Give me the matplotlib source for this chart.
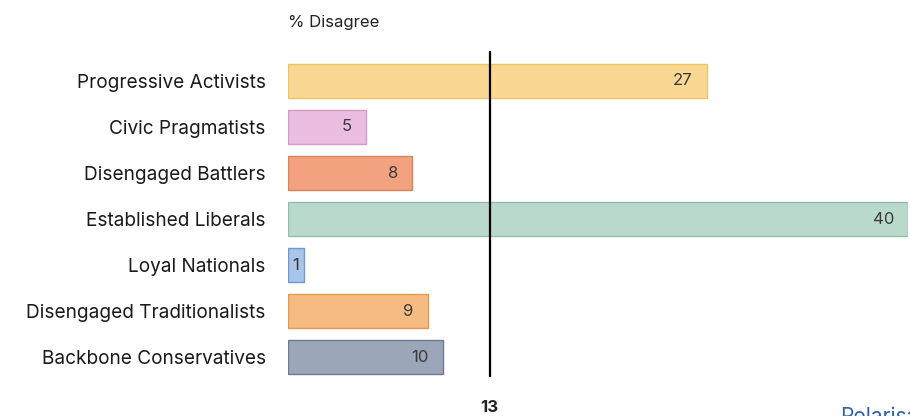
import matplotlib.pyplot as plt
from matplotlib.transforms import blended_transform_factory

plt.rcParams['font.family'] = ['Inter', 'DejaVu Sans']

# ==========================
# DATOS
# ==========================
categorias = [
    "Progressive Activists",
    "Civic Pragmatists",
    "Disengaged Battlers",
    "Established Liberals",
    "Loyal Nationals",
    "Disengaged Traditionalists",
    "Backbone Conservatives",
]
valores = [27, 5, 8, 40, 1, 9, 10]
promedio = 13

colores = ["#fad894", "#ebbde0", "#f2a27e", "#b9dacb", "#a9c5ea", "#f6bb80", "#9ca6b9"]
bordes = ["#e9c65e", "#d49ac6", "#d9835d", "#94bda9", "#6f98cc", "#e09a55", "#6f7a8f"]

# ==========================
# FIGURA
# ==========================
fig = plt.figure(figsize=(9.10, 4.16), dpi=100)
ax = fig.add_axes([288 / 910, 1 - 377 / 416, 620 / 910, 326 / 416])

y = range(len(categorias))
ax.barh(y, valores, height=0.74, color=colores, edgecolor=bordes, linewidth=1)

ax.set_xlim(0, 40)
ax.set_ylim(6.43, -0.65)

for i, v in enumerate(valores):
    if v < 3:
        ax.text(v / 2, i, str(v), ha="center", va="center", fontsize=12, color="#3a3a3a")
    else:
        ax.annotate(str(v), (v, i), xytext=(-10, 0), textcoords="offset points",
                    ha="right", va="center", fontsize=12, color="#3a3a3a")

ax.axvline(promedio, color="black", linewidth=1.6)

trans = blended_transform_factory(ax.transData, fig.transFigure)
ax.text(promedio, 1 - 407 / 416, str(promedio), transform=trans, ha="center",
        va="center", fontsize=12, fontweight="bold", color="#222222")

ax.set_yticks(list(y))
ax.set_yticklabels(categorias, fontsize=13.7, color="#1a1a1a")
ax.tick_params(axis="y", length=0, pad=16)
ax.set_xticks([])
for s in ax.spines.values():
    s.set_visible(False)

fig.text(288 / 910, 1 - 22 / 416, "% Disagree", ha="left", va="center",
         fontsize=12, color="#222222")

fig.text(840 / 910, 1 - 407 / 416, "Polarisation", ha="left", va="top",
         fontsize=15, color="#2f5fb3")

plt.savefig("out.png", dpi=100)
